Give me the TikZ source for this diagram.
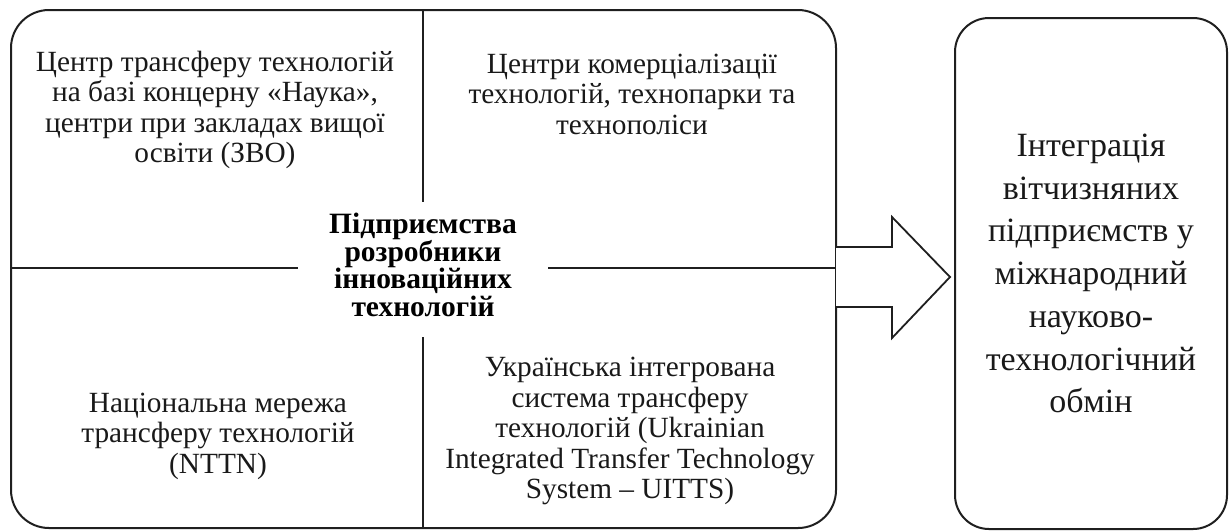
\documentclass[tikz,border=0pt]{standalone}
\usepackage{fontspec}
\setmainfont{Liberation Serif}
\begin{document}
\begin{tikzpicture}[x=1pt,y=-1pt,
  frame/.style={draw=black!88, line width=2pt, rounded corners=38pt, inner sep=0pt, outer sep=0pt},
  rule/.style={draw=black!88, line width=1.8pt},
  cell/.style={align=center, text=black!90, font=\fontsize{29.3}{30.5}\selectfont},
  hubtext/.style={align=center, text=black, font=\fontsize{29.5}{27.8}\selectfont\bfseries},
  goaltext/.style={align=center, text=black!90, font=\fontsize{34}{42.7}\selectfont},
  blockarrow/.style={draw=black!88, line width=1.8pt, fill=white, line join=miter}]
\useasboundingbox (0,0) rectangle (1230,531);

% left frame holding the four sources
\node[frame, minimum width=825pt, minimum height=518pt] (hub) at (423.5,269) {};
% right frame with the outcome
\node[frame, rounded corners=34pt, minimum width=272pt, minimum height=511pt] (goal) at (1091,273.5) {};

% ends of the dividing rules around the central title
\coordinate (vup)   at (423,202);
\coordinate (vdown) at (423,337);
\coordinate (hleft) at (298,268);
\coordinate (hright) at (548,268);

\draw[rule] (hub.north -| vup) -- (vup);
\draw[rule] (vdown) -- (hub.south -| vdown);
\draw[rule] (hub.west |- hleft) -- (hleft);
\draw[rule] (hright) -- (hub.east |- hright);

% quadrant texts
\node[cell] (tl) at (215,110) {Центр трансферу технологій\\на базі концерну «Наука»,\\центри при закладах вищої\\освіти (ЗВО)};
\node[cell] (tr) at (632,94) {Центри комерціалізації\\технологій, технопарки та\\технополіси};
\node[cell] (bl) at (218,436) {Національна мережа\\трансферу технологій\\(NTTN)};
\node[cell] (br) at (630,431) {Українська інтегрована\\система трансферу\\технологій (Ukrainian\\Integrated Transfer Technology\\System – UITTS)};

% central title
\node[hubtext] (core) at (423,265) {Підприємства\\розробники\\інноваційних\\технологій};

% block arrow from the left frame to the right one
\coordinate (tip) at (950,277);
\draw[blockarrow] (hub.east |- 0,247) -- (892,247) -- (892,217) -- (tip)
  -- (892,338) -- (892,307) -- (hub.east |- 0,307);

\node[goaltext] (goaltx) at (goal.center) {Інтеграція\\вітчизняних\\підприємств у\\міжнародний\\науково-\\технологічний\\обмін};
\end{tikzpicture}
\end{document}
